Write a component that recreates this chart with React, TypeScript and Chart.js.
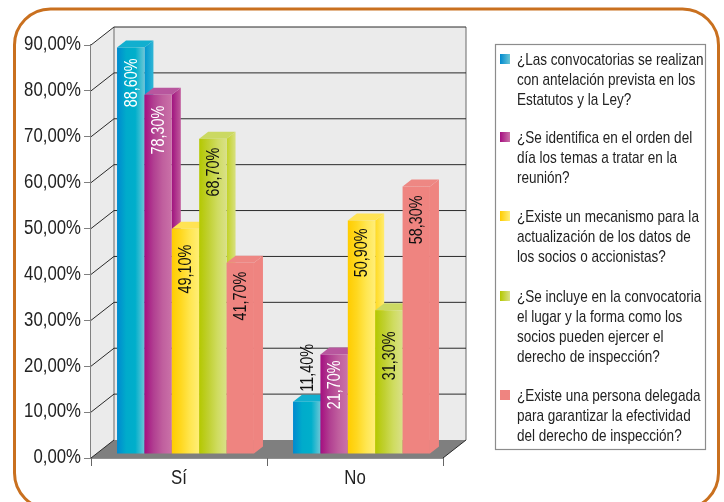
import React, { useEffect, useRef } from "react";
import { Chart, registerables } from "chart.js";

Chart.register(...registerables);

const categories = ["Sí", "No"];
const q1Values = [88.6, 11.4];
const q2Values = [78.3, 21.7];
const q3Values = [49.1, 50.9];
const q4Values = [68.7, 31.3];
const q5Values = [41.7, 58.3];
const yTicks = [0, 10, 20, 30, 40, 50, 60, 70, 80, 90];

const q1Legend = ["¿Las convocatorias se realizan", "con antelación prevista en los", "Estatutos y la Ley?"];
const q2Legend = ["¿Se identifica en el orden del", "día los temas a tratar en la", "reunión?"];
const q3Legend = ["¿Existe un mecanismo para la", "actualización de los datos de", "los socios o accionistas?"];
const q4Legend = ["¿Se incluye en la convocatoria", "el lugar y la forma como los", "socios pueden ejercer el", "derecho de inspección?"];
const q5Legend = ["¿Existe una persona delegada", "para garantizar la efectividad", "del derecho de inspección?"];

const FONT = '"Liberation Sans", sans-serif';
const fmt = (v: number) => v.toFixed(2).replace(".", ",") + "%";

type Style = { stops: string[]; side: string[]; top: string; label: string };
const styles: Style[] = [
  { stops: ["#0089CF", "#00ABCB", "#00AFCB", "#6AC6D6"], side: ["#0096CE", "#30B6D6"], top: "#12AFCF", label: "#ffffff" },
  { stops: ["#A50E80", "#B13F91", "#C05F9E", "#CA72A8"], side: ["#A0137F", "#C05A9C"], top: "#B8569E", label: "#ffffff" },
  { stops: ["#FFCC00", "#FFD820", "#FFE650", "#FFEE78"], side: ["#FFDA20", "#FFEC70"], top: "#FFE354", label: "#111111" },
  { stops: ["#B4C800", "#C0D030", "#CFDC60", "#D9E088"], side: ["#C2D224", "#D8E080"], top: "#CBD962", label: "#111111" },
  { stops: ["#EF8480", "#EF8480", "#EF8480", "#EF8480"], side: ["#EF8480", "#EF8480"], top: "#EE8783", label: "#111111" },
];

const seriesValues = [q1Values, q2Values, q3Values, q4Values, q5Values];
const seriesLegends = [q1Legend, q2Legend, q3Legend, q4Legend, q5Legend];

const CATEGORY_FILL = 0.778;
// projection of the 3D box
const WALL_DX = 23;
const WALL_DY = -18;
const BAR_SHIFT_X = 6.5;
const BAR_SHIFT_Y = -4;
const BAR_DX = 9;
const BAR_DY = -7;
// hand placement of the value labels, in px below the top of each bar
const labelNudge = [[2, 0], [2, -3], [7, -1], [0, 12], [0, 0]];

function grad(ctx: CanvasRenderingContext2D, x0: number, x1: number, stops: string[]) {
  const g = ctx.createLinearGradient(x0, 0, x1, 0);
  stops.forEach((c, i) => g.addColorStop(i / (stops.length - 1), c));
  return g;
}

// condensed text: the reference face is a narrow grotesque
function narrowText(ctx: CanvasRenderingContext2D, text: string, x: number, y: number, size: number, squeeze: number, align: CanvasTextAlign, color: string) {
  ctx.save();
  ctx.translate(x, y);
  ctx.scale(squeeze, 1);
  ctx.font = `${size}px ${FONT}`;
  ctx.textAlign = align;
  ctx.textBaseline = "middle";
  ctx.fillStyle = color;
  ctx.fillText(text, 0, 0);
  ctx.restore();
}

function drawBarFaces(chart: any, index: number) {
  const { ctx } = chart;
  const st = styles[index];
  const meta = chart.getDatasetMeta(index);
  meta.data.forEach((el: any) => {
    const l = el.x - el.width / 2;
    const r = el.x + el.width / 2;
    const t = el.y;
    const b = el.base;
    ctx.fillStyle = grad(ctx, r, r + BAR_DX, st.side);
    ctx.beginPath();
    ctx.moveTo(r, t);
    ctx.lineTo(r + BAR_DX, t + BAR_DY);
    ctx.lineTo(r + BAR_DX, b + BAR_DY);
    ctx.lineTo(r, b);
    ctx.closePath();
    ctx.fill();
    ctx.fillStyle = st.top;
    ctx.beginPath();
    ctx.moveTo(l, t);
    ctx.lineTo(l + BAR_DX, t + BAR_DY);
    ctx.lineTo(r + BAR_DX, t + BAR_DY);
    ctx.lineTo(r, t);
    ctx.closePath();
    ctx.fill();
    el.draw(ctx, chart.chartArea);
  });
}

const frameAndBox = {
  id: "frameAndBox",
  beforeDatasetsDraw(chart: any) {
    const { ctx, chartArea: a, scales } = chart;
    const y = scales.y;
    const x = scales.x;
    ctx.save();
    // rounded frame
    ctx.strokeStyle = "#C9701F";
    ctx.lineWidth = 3;
    ctx.beginPath();
    ctx.roundRect(14.5, 9, 704, 500, 36);
    ctx.stroke();
    // left wall
    ctx.fillStyle = "#EBEBEB";
    ctx.beginPath();
    ctx.moveTo(a.left, a.top);
    ctx.lineTo(a.left + WALL_DX, a.top + WALL_DY);
    ctx.lineTo(a.left + WALL_DX, a.bottom + WALL_DY);
    ctx.lineTo(a.left, a.bottom);
    ctx.closePath();
    ctx.fill();
    // back wall
    ctx.fillRect(a.left + WALL_DX, a.top + WALL_DY, a.width, a.height);
    // floor
    ctx.fillStyle = "#7F7F7F";
    ctx.beginPath();
    ctx.moveTo(a.left, a.bottom);
    ctx.lineTo(a.left + WALL_DX, a.bottom + WALL_DY);
    ctx.lineTo(a.right + WALL_DX, a.bottom + WALL_DY);
    ctx.lineTo(a.right, a.bottom);
    ctx.closePath();
    ctx.fill();
    // edges
    ctx.strokeStyle = "#808080";
    ctx.lineWidth = 1.2;
    ctx.beginPath();
    ctx.moveTo(a.left + WALL_DX, a.top + WALL_DY);
    ctx.lineTo(a.left + WALL_DX, a.bottom + WALL_DY);
    ctx.moveTo(a.right + WALL_DX, a.top + WALL_DY);
    ctx.lineTo(a.right + WALL_DX, a.bottom + WALL_DY);
    ctx.stroke();
    // grid lines on both walls
    ctx.strokeStyle = "#2a2a2a";
    ctx.lineWidth = 1;
    yTicks.forEach((t) => {
      const py = y.getPixelForValue(t);
      ctx.beginPath();
      ctx.moveTo(a.left, py);
      ctx.lineTo(a.left + WALL_DX, py + WALL_DY);
      if (t > 0) ctx.lineTo(a.right + WALL_DX, py + WALL_DY);
      ctx.stroke();
    });
    // right floor edge
    ctx.beginPath();
    ctx.moveTo(a.right, a.bottom);
    ctx.lineTo(a.right + WALL_DX, a.bottom + WALL_DY);
    ctx.stroke();
    // axis labels
    yTicks.forEach((t) => narrowText(ctx, fmt(t), a.left - 10, y.getPixelForValue(t), 19.5, 0.86, "right", "#222222"));
    categories.forEach((c, i) => narrowText(ctx, c, x.getPixelForValue(i), a.bottom + 21, 19.5, 0.86, "center", "#222222"));
    ctx.restore();
  },
  // the bars are painted in series order below, later series overlapping earlier ones
  beforeDatasetDraw() {
    return false;
  },
  afterDatasetsDraw(chart: any) {
    const { ctx } = chart;
    ctx.save();
    ctx.translate(BAR_SHIFT_X, BAR_SHIFT_Y);
    seriesValues.forEach((_, i) => drawBarFaces(chart, i));
    // value labels
    seriesValues.forEach((vals, i) => {
      const meta = chart.getDatasetMeta(i);
      meta.data.forEach((el: any, j: number) => {
        const v = vals[j];
        const outside = v < 15;
        ctx.save();
        ctx.translate(el.x + 1, outside ? el.y - 10 : el.y + 9 + labelNudge[i][j]);
        ctx.rotate(-Math.PI / 2);
        narrowText(ctx, fmt(v), 0, 0, 18, 0.8, outside ? "left" : "right", outside ? "#111111" : styles[i].label);
        ctx.restore();
      });
    });
    ctx.restore();

    // legend panel
    ctx.save();
    ctx.strokeStyle = "#8c8c8c";
    ctx.lineWidth = 1.2;
    ctx.strokeRect(495.5, 44.5, 210, 405);
    const blockTops = [60, 138, 217, 297, 396];
    seriesLegends.forEach((lines, i) => {
      const top = blockTops[i];
      ctx.fillStyle = grad(ctx, 500, 510, [styles[i].stops[0], styles[i].stops[3]]);
      ctx.fillRect(500, top - 6, 10, 10);
      lines.forEach((line, k) => narrowText(ctx, line, 517, top + k * 20, 16.6, 0.815, "left", "#222222"));
    });
    ctx.restore();
  },
};

export default function App() {
  const ref = useRef<HTMLCanvasElement>(null);
  useEffect(() => {
    document.body.style.margin = "0";
    const chart = new Chart(ref.current!, {
      type: "bar",
      data: {
        labels: categories,
        datasets: seriesValues.map((data, i) => ({
          label: seriesLegends[i].join(" "),
          data,
          borderWidth: 0,
          categoryPercentage: CATEGORY_FILL,
          barPercentage: 1,
          backgroundColor: (c: any) => {
            const st = styles[i];
            const xs = c.chart.scales?.x;
            if (c.type !== "data" || !xs || !Number.isFinite(c.dataIndex)) return st.stops[0];
            const groupW = xs.width / categories.length;
            const w = (groupW * CATEGORY_FILL) / seriesValues.length;
            const x0 = xs.getPixelForValue(c.dataIndex) - (w * seriesValues.length) / 2 + i * w;
            if (!Number.isFinite(x0) || !Number.isFinite(w)) return st.stops[0];
            return grad(c.chart.ctx, x0, x0 + w, st.stops);
          },
        })),
      },
      options: {
        responsive: false,
        animation: false,
        layout: { padding: { left: 0, right: 281, top: 45, bottom: 0 } },
        plugins: { legend: { display: false }, tooltip: { enabled: false } },
        scales: {
          x: {
            afterFit: (s: any) => { s.height = 44; },
            border: { color: "#222222", width: 1.5 },
            grid: { display: true, drawOnChartArea: false, drawTicks: true, tickLength: 8, color: "#666666" },
            ticks: { display: false },
          },
          y: {
            min: 0,
            max: 90,
            afterFit: (s: any) => { s.width = 91; },
            afterBuildTicks: (s: any) => { s.ticks = yTicks.map((value) => ({ value })); },
            border: { color: "#808080", width: 1.2 },
            grid: { display: true, drawOnChartArea: false, drawTicks: true, tickLength: 7, color: "#808080" },
            ticks: { display: false },
          },
        },
      },
      plugins: [frameAndBox],
    } as any);
    return () => chart.destroy();
  }, []);
  return <canvas ref={ref} width={724} height={502} style={{ display: "block" }} />;
}
